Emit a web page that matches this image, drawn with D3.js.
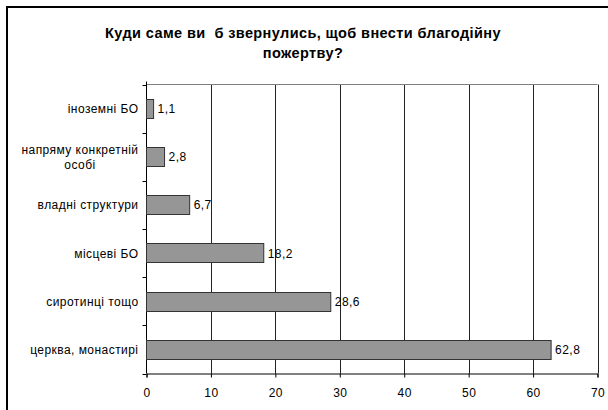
<!DOCTYPE html>
<html><head><meta charset="utf-8">
<script src="https://cdn.jsdelivr.net/npm/d3@7"></script>
<style>body{margin:0;background:#fff}svg{display:block;font-family:"Liberation Sans",Arial,sans-serif}</style>
</head><body>
<script>
const categories = [["іноземні БО"], ["напряму конкретній", "особі"], ["владні структури"], ["місцеві БО"], ["сиротинці тощо"], ["церква, монастирі"]];
const values = [1.1, 2.8, 6.7, 18.2, 28.6, 62.8];
const xTicks = [0, 10, 20, 30, 40, 50, 60, 70];
const titleLines = ["Куди саме ви  б звернулись, щоб внести благодійну", "пожертву?"];

const W = 608, H = 410;
const m = {left: 146.5, right: 597.5, top: 84.5, bottom: 373.5};
const FS = 12, LS = 0.45;
const svg = d3.select("body").append("svg").attr("width", W).attr("height", H);

// outer frame (left + top visible)
svg.append("path").attr("d", `M7,${H} V7 H${W}`).attr("fill", "none").attr("stroke", "#000").attr("stroke-width", 2);

svg.append("text").attr("text-anchor", "middle").attr("xml:space", "preserve").style("white-space", "pre")
  .attr("font-size", 14.5).attr("font-weight", "bold").attr("letter-spacing", 0.4)
  .selectAll("tspan").data(titleLines).join("tspan")
  .attr("x", 303).attr("y", (d, i) => 37.5 + i * 20.5).text(d => d);

const x = d3.scaleLinear().domain([0, 70]).range([m.left, m.right]);
const idx = categories.map((d, i) => i);
const y = d3.scaleBand().domain(idx).range([m.top, m.bottom]).paddingInner(0.6).paddingOuter(0.3);

// gridlines
svg.append("g").selectAll("line").data(xTicks.slice(1)).join("line")
  .attr("x1", d => Math.round(x(d)) + 0.5).attr("x2", d => Math.round(x(d)) + 0.5)
  .attr("y1", m.top).attr("y2", m.bottom).attr("stroke", "#222").attr("stroke-width", 1);
svg.append("line").attr("x1", m.left).attr("x2", m.right).attr("y1", m.top).attr("y2", m.top).attr("stroke", "#808080");

// x axis
const xa = svg.append("g").attr("transform", `translate(0,${m.bottom})`)
  .call(d3.axisBottom(x).tickValues(xTicks).tickSize(4).tickPadding(11).tickFormat(d3.format("d")));
xa.select(".domain").attr("stroke", "#000");
xa.selectAll(".tick line").attr("stroke", "#000");
xa.selectAll("text").attr("font-size", FS).attr("letter-spacing", LS).attr("fill", "#000")
  .attr("font-family", "Liberation Sans, Arial, sans-serif");

// y axis line and ticks at band boundaries
const band = (m.bottom - m.top) / categories.length;
svg.append("line").attr("x1", m.left).attr("x2", m.left).attr("y1", m.top - 3).attr("y2", m.bottom).attr("stroke", "#000");
svg.append("g").selectAll("line").data(d3.range(categories.length + 1)).join("line")
  .attr("x1", m.left - 4).attr("x2", m.left)
  .attr("y1", d => Math.round(m.top + d * band) + 0.5).attr("y2", d => Math.round(m.top + d * band) + 0.5)
  .attr("stroke", "#000");

// bars
svg.append("g").selectAll("rect").data(values).join("rect")
  .attr("x", x(0)).attr("y", (d, i) => Math.round(y(i)) + 0.5)
  .attr("width", d => x(d) - x(0)).attr("height", Math.round(y.bandwidth()))
  .attr("fill", "#969696").attr("stroke", "#333").attr("stroke-width", 1);

// value labels
svg.append("g").selectAll("text").data(values).join("text")
  .attr("x", d => x(d) + 4).attr("y", (d, i) => y(i) + y.bandwidth() / 2 + 4.5)
  .attr("font-size", FS).attr("letter-spacing", LS).text(d => d3.format(".1f")(d).replace(".", ","));

// category labels
const cl = svg.append("g").selectAll("text").data(categories).join("text")
  .attr("font-size", FS).attr("letter-spacing", LS).attr("text-anchor", "middle");
cl.each(function(lines, i) {
  const t = d3.select(this);
  const cy = y(i) + y.bandwidth() / 2;
  lines.forEach((s) => t.append("tspan").text(s));
  const widths = [];
  t.selectAll("tspan").each(function() { widths.push(this.getComputedTextLength()); });
  const wmax = d3.max(widths);
  const cx = 138.5 - wmax / 2;
  const n = lines.length;
  t.selectAll("tspan").attr("x", cx).attr("y", (s, k) => cy + 4.5 + (k - (n - 1) / 2) * 15);
});
</script>
</body></html>
